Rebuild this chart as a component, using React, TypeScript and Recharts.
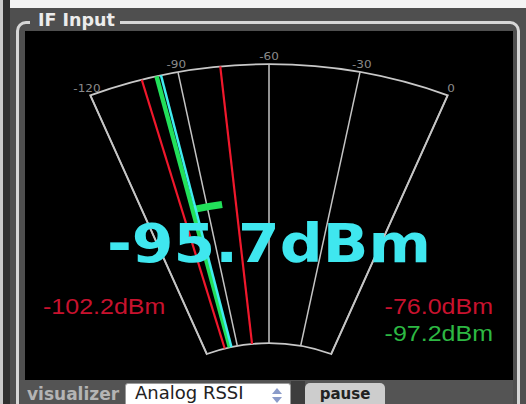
import {
  Pie,
  PieChart,
  PolarAngleAxis,
  PolarGrid,
  RadialBar,
  RadialBarChart,
  Sector,
} from "recharts";

// scale and readings (dBm)
const SCALE_TICKS = [-120, -90, -60, -30, 0];
const NEEDLE_NAMES = ["min", "max", "avg", "current"];
const NEEDLE_VALUES = [-102.2, -76.0, -97.2, -95.7];
const AVG_SPREAD = [-97.2, -82.7];
const FRAME_VALUES = [1];

const needleRows = NEEDLE_NAMES.map((name, i) => ({
  name,
  value: NEEDLE_VALUES[i],
  spread: name === "avg" ? AVG_SPREAD : null,
}));
const frameRows = FRAME_VALUES.map((value) => ({ value }));

const NEEDLE_STYLE: Record<string, { stroke: string; width: number }> = {
  min: { stroke: "#f0182c", width: 2.2 },
  max: { stroke: "#f0182c", width: 2.2 },
  avg: { stroke: "#22e05a", width: 4.5 },
  current: { stroke: "#40ecf0", width: 2.5 },
};

// the source screenshot is squashed vertically, so the dial is drawn round and scaled
const SQUASH = 0.897;
const PANEL_W = 488;
const PANEL_H = 349;
const CHART_H = 389;
const CX = 244;
const CY = 514;
const R_IN = 166;
const R_OUT = 477;
const START_ANGLE = 112;
const END_ANGLE = 68;
const RAD = Math.PI / 180;

const fmt = (v: number) => `${v.toFixed(1)}dBm`;

function NeedleShape(props: any) {
  const { cx, cy, endAngle, payload } = props;
  const style = NEEDLE_STYLE[payload?.name];
  if (!style || !Number.isFinite(endAngle)) return <g />;
  const c = Math.cos(-endAngle * RAD);
  const s = Math.sin(-endAngle * RAD);
  return (
    <line
      x1={cx + R_IN * c}
      y1={cy + R_IN * s}
      x2={cx + R_OUT * c}
      y2={cy + R_OUT * s}
      stroke={style.stroke}
      strokeWidth={style.width}
    />
  );
}

function SpreadShape(props: any) {
  const { cx, cy, startAngle, endAngle } = props;
  if (!Number.isFinite(startAngle) || !Number.isFinite(endAngle)) return <g />;
  if (Math.abs(endAngle - startAngle) < 0.01) return <g />;
  return (
    <Sector
      cx={cx}
      cy={cy}
      innerRadius={320}
      outerRadius={328}
      startAngle={startAngle}
      endAngle={endAngle}
      fill="#22e05a"
    />
  );
}

function ScaleTick(props: any) {
  const { x, y, payload } = props;
  return (
    <text
      x={x}
      y={y}
      textAnchor="middle"
      dominantBaseline="central"
      fill="#8a8a8a"
      fontSize={12}
      fontFamily="DejaVu Sans"
    >
      {payload.value}
    </text>
  );
}

const readout: React.CSSProperties = {
  position: "absolute",
  fontFamily: "Liberation Sans",
  fontSize: 25,
  lineHeight: "25px",
  whiteSpace: "nowrap",
};

function Dial() {
  return (
    <div
      style={{
        position: "absolute",
        left: 0,
        top: 0,
        width: PANEL_W,
        height: CHART_H,
        transform: `scaleY(${SQUASH})`,
        transformOrigin: "0 0",
      }}
    >
      <div style={{ position: "absolute", left: 0, top: 0 }}>
        <PieChart width={PANEL_W} height={CHART_H} margin={{ top: 0, right: 0, bottom: 0, left: 0 }}>
          <Pie
            data={frameRows}
            dataKey="value"
            cx={CX}
            cy={CY}
            innerRadius={R_IN}
            outerRadius={R_OUT}
            startAngle={START_ANGLE}
            endAngle={END_ANGLE}
            fill="#000"
            stroke="#c8c8c8"
            strokeWidth={2}
            isAnimationActive={false}
          />
        </PieChart>
      </div>
      <div style={{ position: "absolute", left: 0, top: 0 }}>
        <RadialBarChart
          width={PANEL_W}
          height={CHART_H}
          data={needleRows}
          cx={CX}
          cy={CY}
          innerRadius={R_IN}
          outerRadius={R_OUT}
          startAngle={START_ANGLE}
          endAngle={END_ANGLE}
          margin={{ top: 0, right: 0, bottom: 0, left: 0 }}
        >
          <PolarGrid polarRadius={[]} stroke="#c4c4c4" strokeWidth={1.5} />
          <PolarAngleAxis
            type="number"
            domain={[-120, 0]}
            ticks={SCALE_TICKS}
            tick={ScaleTick}
            tickLine={false}
            axisLine={false}
            tickSize={9}
          />
          <RadialBar dataKey="spread" shape={SpreadShape} isAnimationActive={false} />
          <RadialBar dataKey="value" shape={NeedleShape} isAnimationActive={false} />
        </RadialBarChart>
      </div>

      <div
        style={{
          position: "absolute",
          left: 0,
          top: 207,
          width: PANEL_W,
          textAlign: "center",
          fontFamily: "DejaVu Sans",
          fontWeight: "bold",
          fontSize: 60,
          lineHeight: "60px",
          color: "#3fe7ef",
          whiteSpace: "nowrap",
        }}
      >
        {fmt(NEEDLE_VALUES[3])}
      </div>
      <div style={{ ...readout, left: 18, top: 294, color: "#c8122e" }}>{fmt(NEEDLE_VALUES[0])}</div>
      <div style={{ ...readout, right: 20, top: 294, color: "#c8122e" }}>{fmt(NEEDLE_VALUES[1])}</div>
      <div style={{ ...readout, right: 20, top: 325, color: "#2db843" }}>{fmt(NEEDLE_VALUES[2])}</div>
    </div>
  );
}

export default function App() {
  return (
    <div
      style={{
        position: "absolute",
        left: 0,
        top: 0,
        width: 526,
        height: 404,
        overflow: "hidden",
        background: "#4f4f4f",
        fontFamily: "DejaVu Sans",
      }}
    >
      <div style={{ position: "absolute", left: 10, top: 0, width: 516, height: 8, background: "#f4f4f4" }} />
      <div style={{ position: "absolute", left: 0, top: 0, width: 3, height: 404, background: "#c9c9c9" }} />
      <div style={{ position: "absolute", left: 3, top: 0, width: 7, height: 404, background: "#2f2f2f" }} />

      {/* fieldset frame */}
      <div
        style={{
          position: "absolute",
          left: 16,
          top: 21,
          width: 504,
          height: 420,
          boxSizing: "border-box",
          border: "3px solid #d6d6d6",
          borderRadius: 10,
        }}
      />
      <div
        style={{
          position: "absolute",
          left: 30,
          top: 9,
          height: 22,
          padding: "0 5px 0 8px",
          background: "#4f4f4f",
          color: "#ececec",
          fontWeight: "bold",
          fontSize: 17.5,
          lineHeight: "22px",
          whiteSpace: "nowrap",
        }}
      >
        IF Input
      </div>

      <div
        style={{
          position: "absolute",
          left: 25,
          top: 31,
          width: PANEL_W,
          height: PANEL_H,
          background: "#000",
          overflow: "hidden",
        }}
      >
        <Dial />
      </div>

      {/* controls bar */}
      <div style={{ position: "absolute", left: 20, top: 380, width: 493, height: 24, background: "#545454" }} />
      <div
        style={{
          position: "absolute",
          left: 27,
          top: 387,
          fontWeight: "bold",
          fontSize: 17,
          lineHeight: "14px",
          color: "#b4b4b4",
          whiteSpace: "nowrap",
        }}
      >
        visualizer
      </div>
      <div
        style={{
          position: "absolute",
          left: 125,
          top: 383,
          width: 166,
          height: 30,
          boxSizing: "border-box",
          background: "#fff",
          border: "1px solid #9a9a9a",
          borderRadius: 3,
        }}
      />
      <div
        style={{
          position: "absolute",
          left: 135,
          top: 386,
          fontSize: 18,
          lineHeight: "14px",
          color: "#222",
          whiteSpace: "nowrap",
        }}
      >
        Analog RSSI
      </div>
      <div
        style={{
          position: "absolute",
          left: 272,
          top: 388,
          width: 0,
          height: 0,
          borderLeft: "5px solid transparent",
          borderRight: "5px solid transparent",
          borderBottom: "6px solid #8a9bc9",
        }}
      />
      <div
        style={{
          position: "absolute",
          left: 272,
          top: 397,
          width: 0,
          height: 0,
          borderLeft: "5px solid transparent",
          borderRight: "5px solid transparent",
          borderTop: "6px solid #8a9bc9",
        }}
      />
      <div style={{ position: "absolute", left: 291, top: 381, width: 14, height: 23, background: "#3d3d3d" }} />
      <div
        style={{
          position: "absolute",
          left: 305,
          top: 383,
          width: 80,
          height: 30,
          background: "#cdcdcd",
          borderRadius: 5,
        }}
      />
      <div
        style={{
          position: "absolute",
          left: 305,
          top: 389,
          width: 80,
          textAlign: "center",
          fontWeight: "bold",
          fontSize: 15,
          lineHeight: "11px",
          color: "#222",
        }}
      >
        pause
      </div>
    </div>
  );
}
